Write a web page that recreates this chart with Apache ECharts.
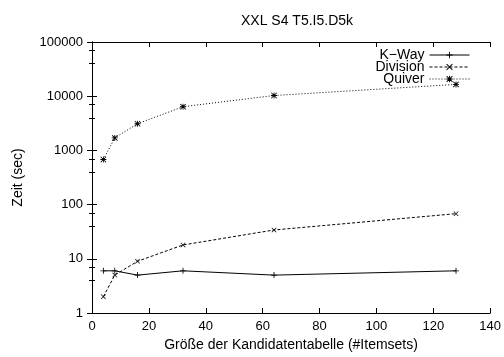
<!DOCTYPE html>
<html>
<head>
<meta charset="utf-8">
<script src="https://cdn.jsdelivr.net/npm/echarts@6/dist/echarts.min.js"></script>
<style>
html,body{margin:0;padding:0;background:#fff;}
#chart{width:504px;height:357px;}
</style>
</head>
<body>
<div id="chart"></div>
<script>
// Tabellengroesse (#Itemsets)
var sizes = [4, 8, 16, 32, 64, 128];
// Laufzeiten in sec
var kway = [6, 6, 5, 6, 5, 6];
var division = [2, 5, 9, 18, 34, 68];
var quiver = [680, 1700, 3100, 6400, 10300, 16500];

var plusPath = 'path://M4.3,0H5.7V4.3H10V5.7H5.7V10H4.3V5.7H0V4.3H4.3Z';
var crossPath = 'path://M1,0L5,4L9,0L10,1L6,5L10,9L9,10L5,6L1,10L0,9L4,5L0,1Z';
var starPath = 'path://M4.3,0H5.7V4.3H10V5.7H5.7V10H4.3V5.7H0V4.3H4.3ZM1,0L5,4L9,0L10,1L6,5L10,9L9,10L5,6L1,10L0,9L4,5L0,1Z';

function pairs(ys){
  var out = [];
  for (var i = 0; i < sizes.length; i++) out.push([sizes[i], ys[i]]);
  return out;
}

var font = 'Liberation Sans, Arial, sans-serif';
var chart = echarts.init(document.getElementById('chart'));

var option = {
  animation: false,
  backgroundColor: '#fff',
  title: {
    text: 'XXL S4 T5.I5.D5k',
    left: 292, top: 9, textAlign: 'center',
    textStyle: {fontFamily: font, fontSize: 14, fontWeight: 'normal', color: '#000'}
  },
  legend: {
    right: 29, top: 43, orient: 'vertical', align: 'right',
    itemWidth: 40, itemHeight: 8, itemGap: -2,
    lineStyle: {width: 1},
    textStyle: {fontFamily: font, fontSize: 14, color: '#000', padding: [0, 0, 0, 0]},
    data: ['K\u2212Way', 'Division', 'Quiver']
  },
  grid: {left: 92, right: 13, top: 42, bottom: 44},
  xAxis: [{
    type: 'value', min: 0, max: 140, interval: 20,
    name: 'Gr\u00f6\u00dfe der Kandidatentabelle (#Itemsets)',
    nameLocation: 'middle', nameGap: 24,
    nameTextStyle: {fontFamily: font, fontSize: 14, color: '#000'},
    axisLine: {lineStyle: {color: '#000', width: 1}},
    axisTick: {inside: true, length: 5, lineStyle: {color: '#000'}},
    axisLabel: {fontFamily: font, fontSize: 13, color: '#000', margin: 7},
    splitLine: {show: false}
  }, {
    type: 'value', min: 0, max: 140, interval: 20, position: 'top',
    axisLine: {show: true, lineStyle: {color: '#000', width: 1}},
    axisTick: {inside: true, length: 5, lineStyle: {color: '#000'}},
    axisLabel: {show: false},
    splitLine: {show: false}
  }],
  yAxis: [{
    type: 'log', logBase: 10, min: 1, max: 100000,
    name: 'Zeit (sec)', nameLocation: 'middle', nameGap: 67,
    nameTextStyle: {fontFamily: font, fontSize: 14, color: '#000'},
    axisLine: {show: true, lineStyle: {color: '#000', width: 1}},
    axisTick: {inside: true, length: 5, lineStyle: {color: '#000'}},
    minorTick: {show: true, splitNumber: 3, length: 3, lineStyle: {color: '#000'}},
    axisLabel: {fontFamily: font, fontSize: 13, color: '#000', margin: 9,
      formatter: function (v) { return String(Math.round(v)); }},
    splitLine: {show: false}
  }, {
    type: 'log', logBase: 10, min: 1, max: 100000, position: 'right',
    axisLine: {show: true, lineStyle: {color: '#000', width: 1}},
    axisTick: {inside: true, length: 5, lineStyle: {color: '#000'}},
    minorTick: {show: true, splitNumber: 3, length: 3, lineStyle: {color: '#000'}},
    axisLabel: {show: false},
    splitLine: {show: false}
  }],
  series: [{
    name: 'K\u2212Way', type: 'line', data: pairs(kway),
    symbol: plusPath, symbolSize: 6, showAllSymbol: true,
    lineStyle: {color: '#000', width: 1, type: 'solid'},
    itemStyle: {color: '#000'}
  }, {
    name: 'Division', type: 'line', data: pairs(division),
    symbol: crossPath, symbolSize: 5,
    lineStyle: {color: '#000', width: 1, type: [3, 2]},
    itemStyle: {color: '#000'}
  }, {
    name: 'Quiver', type: 'line', data: pairs(quiver),
    symbol: starPath, symbolSize: 6,
    lineStyle: {color: '#000', width: 1, type: [1, 2]},
    itemStyle: {color: '#000'}
  }]
};
chart.setOption(option);
</script>
</body>
</html>
